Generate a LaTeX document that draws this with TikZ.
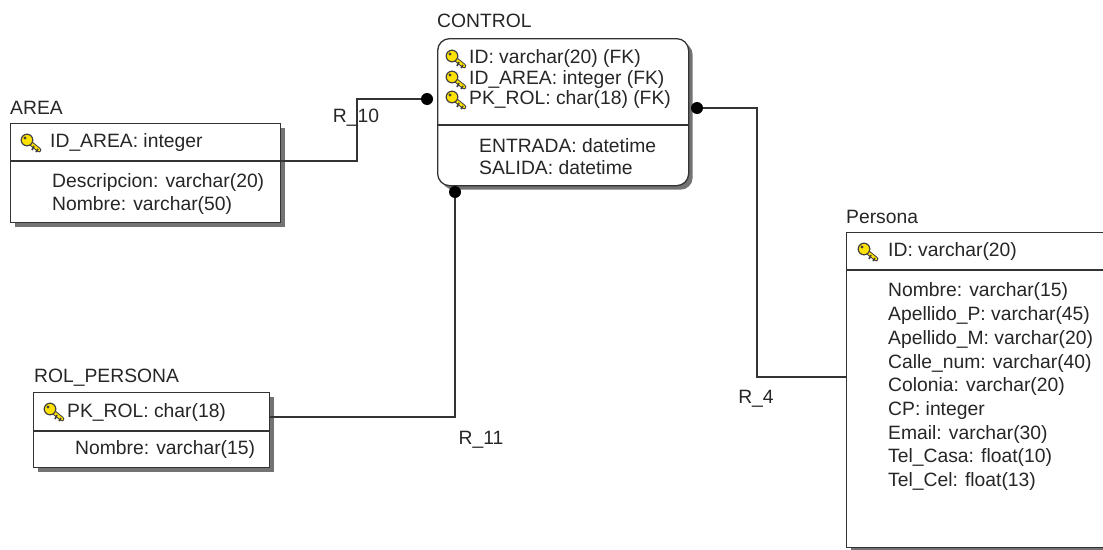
\documentclass[tikz,border=0pt]{standalone}
\usepackage{fontspec}
\setmainfont{Liberation Sans}
\usetikzlibrary{shadows}
\tikzset{
  pkkey/.pic={
    \draw[line width=4.6pt, black!75, line cap=round] (-3,-2) -- (8,7);
    \draw[line width=2.6pt, yellow!85!orange, line cap=round] (-3,-2) -- (8,7);
    \draw[line width=1.6pt, black!75] (3,3) -- (1,7) (7,6) -- (5,9);
    \filldraw[fill=yellow!85!orange, draw=black!75, line width=1.2pt] (-4,-3) circle (5.8pt);
    \fill[black!75] (-6,-5) circle (1.6pt);
  }
}
\begin{document}
\begin{tikzpicture}[x=1pt, y=-1pt,
  every node/.style={font=\fontsize{19.3}{21}\selectfont, text=black!85, inner sep=0pt},
  tabla/.style={draw=black!80, line width=1.3pt, fill=white, anchor=north west,
    drop shadow={shadow xshift=4pt, shadow yshift=-4pt, fill=black!55, opacity=1}},
  sep/.style={line width=1.3pt, black!80},
  rel/.style={line width=1.3pt, black!80},
  dot/.style={circle, fill=black, minimum size=12pt},
  campo/.style={anchor=west}]
\useasboundingbox (0,0) rectangle (1103,549);
\clip (0,0) rectangle (1103,549);

% AREA
\node[anchor=west] (areaT) at (10,108) {AREA};
\node[tabla, minimum width=270, minimum height=99] (area) at (10,123) {};
\draw[sep] (area.west |- 0,161) -- (area.east |- 0,161);
\pic at (31,143) {pkkey};
\node[campo] (areaPK) at (50,143) {ID\_AREA: integer};
\node[campo] (areaA) at (52,183) {Descripcion: varchar(20)};
\node[campo] (areaB) at (52,206) {Nombre: varchar(50)};

% CONTROL
\node[anchor=west] (ctlT) at (437,21) {CONTROL};
\node[tabla, rounded corners=12pt, minimum width=251, minimum height=147] (ctl) at (437,38) {};
\draw[sep] (ctl.west |- 0,125) -- (ctl.east |- 0,125);
\pic at (456,59) {pkkey};
\pic at (456,80) {pkkey};
\pic at (456,100) {pkkey};
\node[campo] (ctlA) at (469,59) {ID: varchar(20) (FK)};
\node[campo] (ctlB) at (469,80) {ID\_AREA: integer (FK)};
\node[campo] (ctlC) at (469,100) {PK\_ROL: char(18) (FK)};
\node[campo] (ctlD) at (479,146) {ENTRADA: datetime};
\node[campo] (ctlE) at (479,168) {SALIDA: datetime};

% ROL_PERSONA
\node[anchor=west] (rolT) at (34,378) {ROL\_PERSONA};
\node[tabla, minimum width=236, minimum height=75] (rol) at (33,392) {};
\draw[sep] (rol.west |- 0,431) -- (rol.east |- 0,431);
\pic at (54,412) {pkkey};
\node[campo] (rolPK) at (67,412) {PK\_ROL: char(18)};
\node[campo] (rolA) at (75,449) {Nombre: varchar(15)};

% Persona
\node[anchor=west] (perT) at (846,217) {Persona};
\node[tabla, minimum width=270, minimum height=315] (per) at (846,232) {};
\draw[sep] (per.west |- 0,270) -- (per.east |- 0,270);
\pic at (868,252) {pkkey};
\node[campo] (perPK) at (888,252) {ID: varchar(20)};
\foreach \t [count=\i] in {{Nombre: varchar(15)},{Apellido\_P: varchar(45)},{Apellido\_M: varchar(20)},
  {Calle\_num: varchar(40)},{Colonia: varchar(20)},{CP: integer},{Email: varchar(30)},
  {Tel\_Casa: float(10)},{Tel\_Cel: float(13)}}
  \node[campo] (per\i) at (888,{292+23.7*(\i-1)}) {\t};

% relaciones
\node[dot] (dotW) at (427,99) {};
\node[dot] (dotE) at (697,108) {};
\node[dot] (dotS) at (455,192) {};
\draw[rel] (area.east |- 0,161) -| (357,130) |- (dotW);
\draw[rel] (rol.east |- 0,417) -| (dotS);
\draw[rel] (dotE) -| (757,300) |- (per.west |- 0,377);
\node (r10) at (356,118) {R\_10};
\node (r11) at (481,440) {R\_11};
\node (r4) at (756,399) {R\_4};

\end{tikzpicture}
\end{document}
